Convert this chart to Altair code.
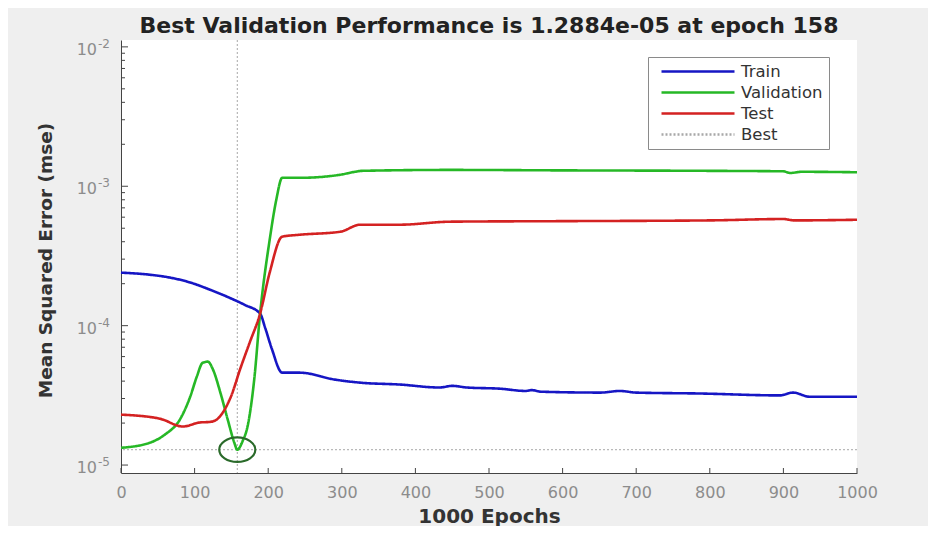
import altair as alt
import pandas as pd

# ---- data ----
train_epochs = [0, 39, 67, 94, 121, 148, 168, 189, 196, 205, 219, 243, 291, 325, 379, 433,
                450, 470, 515, 550, 558, 570, 651, 678, 700, 787, 895, 913, 936, 1000]
train_mse = [2.40e-4, 2.32e-4, 2.21e-4, 2.04e-4, 1.81e-4, 1.58e-4, 1.41e-4, 1.22e-4, 9.6e-5,
             6.8e-5, 4.6e-5, 4.6e-5, 4.1e-5, 3.9e-5, 3.78e-5, 3.6e-5, 3.7e-5, 3.6e-5, 3.53e-5,
             3.40e-5, 3.45e-5, 3.36e-5, 3.31e-5, 3.40e-5, 3.31e-5, 3.26e-5, 3.16e-5, 3.31e-5,
             3.09e-5, 3.09e-5]

val_epochs = [0, 39, 60, 80, 94, 103, 111, 118, 125, 135, 145, 154, 158, 166, 171, 181, 189,
              202, 211, 219, 243, 298, 318, 327, 447, 600, 800, 900, 909, 925, 1000]
val_mse = [1.33e-5, 1.445e-5, 1.66e-5, 2.12e-5, 3.09e-5, 4.31e-5, 5.42e-5, 5.52e-5, 4.84e-5,
           3.31e-5, 2.12e-5, 1.445e-5, 1.2884e-5, 1.52e-5, 1.80e-5, 4.10e-5, 1.22e-4, 4.13e-4,
           8.0e-4, 1.15e-3, 1.15e-3, 1.21e-3, 1.27e-3, 1.29e-3, 1.31e-3, 1.30e-3, 1.29e-3,
           1.28e-3, 1.245e-3, 1.27e-3, 1.26e-3]

test_epochs = [0, 53, 84, 107, 121, 130, 141, 150, 162, 175, 189, 202, 219, 243, 298, 325,
               379, 447, 600, 800, 900, 915, 1000]
test_mse = [2.30e-5, 2.15e-5, 1.89e-5, 2.02e-5, 2.04e-5, 2.12e-5, 2.51e-5, 3.16e-5, 4.9e-5,
            7.6e-5, 1.22e-4, 2.40e-4, 4.35e-4, 4.49e-4, 4.72e-4, 5.30e-4, 5.30e-4, 5.57e-4,
            5.62e-4, 5.69e-4, 5.82e-4, 5.69e-4, 5.75e-4]

best_epoch = 158
best_perf = 1.2884e-05

series_names = ["Train", "Validation", "Test", "Best"]
series_colors = ["#1616c4", "#26b826", "#d42222", "#a8a8a8"]
series_dashes = [[1, 0], [1, 0], [1, 0], [2, 2]]

x_ticks = [0, 100, 200, 300, 400, 500, 600, 700, 800, 900, 1000]
y_major = [1e-5, 1e-4, 1e-3, 1e-2]
y_exps = ["-5", "-4", "-3", "-2"]
y_minor = [k * 10.0 ** d for d in (-5, -4, -3) for k in range(2, 10)]

title_text = "Best Validation Performance is 1.2884e-05 at epoch 158"
FONT = "DejaVu Sans"

# ---- build tables ----
rows = []
for name, ep, val in [("Train", train_epochs, train_mse),
                      ("Validation", val_epochs, val_mse),
                      ("Test", test_epochs, test_mse)]:
    for e, v in zip(ep, val):
        rows.append({"series": name, "epoch": e, "mse": v})
df = pd.DataFrame(rows)

best_df = pd.DataFrame({"epoch": [best_epoch], "mse": [best_perf]})
xt_df = pd.DataFrame({"epoch": x_ticks})
ymaj_df = pd.DataFrame({"mse": y_major, "base": ["10"] * 4, "exp": y_exps})
ymin_df = pd.DataFrame({"mse": y_minor})

W, H = 736, 433

xscale = alt.Scale(domain=[0, 1000], nice=False)
yscale = alt.Scale(type="log", domain=[8.77e-6, 1.12e-2], nice=False)

xaxis = alt.Axis(values=x_ticks, format="d", ticks=False, grid=False, labelFont=FONT,
                 labelFontSize=16, labelColor="#8c8c8c", labelPadding=11, labelFlush=False,
                 domainColor="#444444", title="1000 Epochs", titleFont=FONT,
                 titleFontSize=20, titleFontWeight="bold", titleColor="#333333",
                 titleX=368, titleY=49, titleBaseline="alphabetic", titleAlign="center")
yaxis = alt.Axis(labels=False, ticks=False, grid=False, domainColor="#444444",
                 title="Mean Squared Error  (mse)", titleFont=FONT, titleFontSize=18.5,
                 titleFontWeight="bold", titleColor="#333333", titleX=-76, titleY=220,
                 titleAngle=270, titleBaseline="middle", titleAlign="center")

legend = alt.Legend(
    title=None, orient="none", legendX=527, legendY=17, symbolType="stroke",
    symbolSize=5329, symbolStrokeWidth=2.4, clipHeight=17, rowPadding=4,
    labelFont=FONT, labelFontSize=16.5, labelColor="#333333", labelOffset=5,
    padding=6, symbolOffset=6, strokeColor="#8a8a8a", fillColor="white",
)

lines = alt.Chart(df).mark_line(strokeWidth=2.6, interpolate="monotone").encode(
    x=alt.X("epoch:Q", scale=xscale, axis=xaxis),
    y=alt.Y("mse:Q", scale=yscale, axis=yaxis),
    color=alt.Color("series:N", scale=alt.Scale(domain=series_names, range=series_colors),
                    sort=series_names, legend=legend),
    strokeDash=alt.StrokeDash("series:N",
                              scale=alt.Scale(domain=series_names, range=series_dashes),
                              sort=series_names, legend=legend),
)

best_v = alt.Chart(best_df).mark_rule(color="#a8a8a8", strokeDash=[2, 2], strokeWidth=1).encode(
    x="epoch:Q")
best_h = alt.Chart(best_df).mark_rule(color="#a8a8a8", strokeDash=[2, 2], strokeWidth=1).encode(
    y="mse:Q")

circle = alt.Chart(best_df).mark_point(
    shape="M-1,0A1,0.68,0,1,1,1,0A1,0.68,0,1,1,-1,0Z", size=1300, filled=False,
    color="#2a6a2a", strokeWidth=2.2, opacity=1).encode(x="epoch:Q", y="mse:Q")

xt = alt.Chart(xt_df).mark_rule(color="#444444", strokeWidth=1).encode(
    x="epoch:Q", y=alt.value(H), y2=alt.value(H - 5))
ymaj = alt.Chart(ymaj_df).mark_rule(color="#444444", strokeWidth=1).encode(
    y="mse:Q", x=alt.value(0), x2=alt.value(7))
ymin = alt.Chart(ymin_df).mark_rule(color="#444444", strokeWidth=1).encode(
    y="mse:Q", x=alt.value(0), x2=alt.value(4))

ybase = alt.Chart(ymaj_df).mark_text(align="right", baseline="middle", font=FONT, fontSize=16,
                                     color="#8c8c8c", dy=3).encode(
    y="mse:Q", x=alt.value(-24), text="base:N")
yexp = alt.Chart(ymaj_df).mark_text(align="left", baseline="middle", font=FONT, fontSize=12,
                                    color="#8c8c8c", dy=-3).encode(
    y="mse:Q", x=alt.value(-23), text="exp:N")

chart = alt.layer(best_v, best_h, lines, circle, xt, ymaj, ymin, ybase, yexp).properties(
    width=W, height=H,
    title=alt.TitleParams(title_text, font=FONT, fontSize=22, fontWeight="bold",
                          color="#222222", anchor="middle", offset=0),
    autosize=alt.AutoSizeParams(type="none"),
    padding={"left": 113, "top": 32, "right": 71, "bottom": 53},
    background="#efefef",
).configure_view(stroke=None, fill="white")

chart.save("out.html", embed_options={"renderer": "svg", "actions": False})
